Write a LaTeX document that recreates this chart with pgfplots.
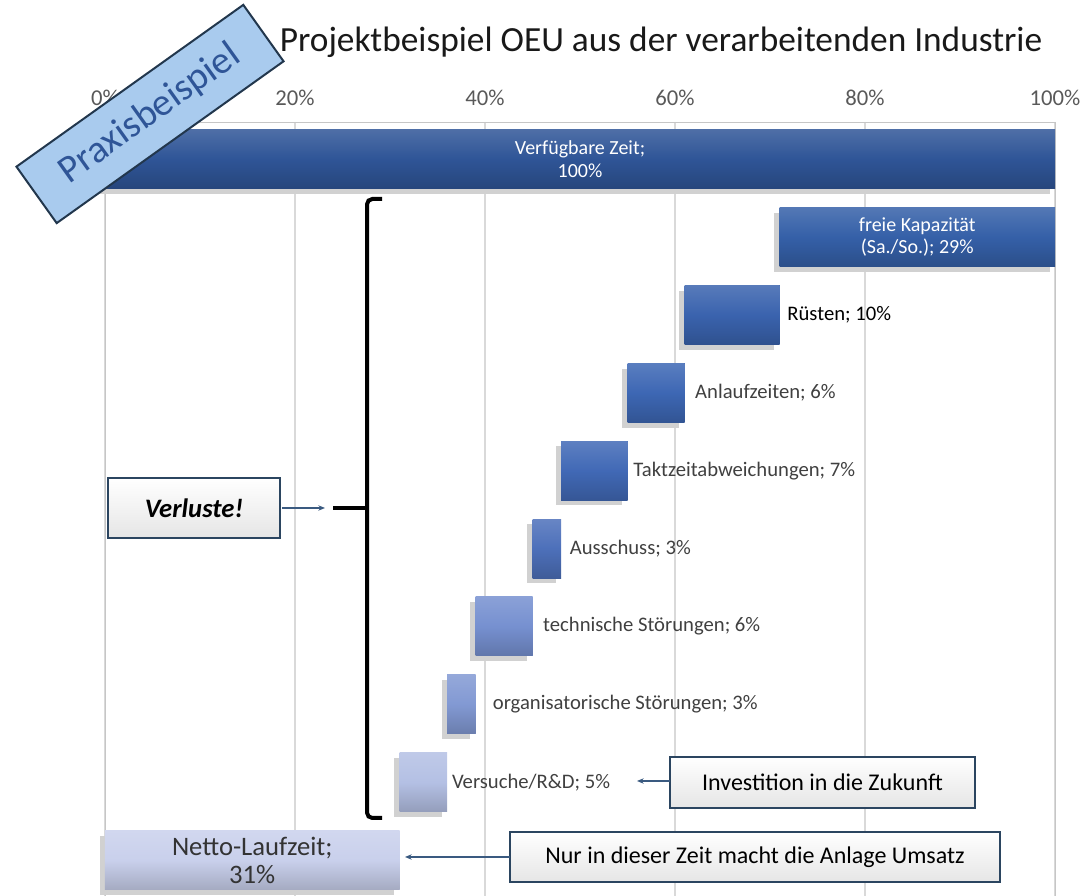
\documentclass[border=0pt]{standalone}
\usepackage{pgfplots}
\pgfplotsset{compat=1.18}
\usepackage{pgfplotstable}
\usepackage{fontspec}
\setmainfont{Carlito}
\usetikzlibrary{arrows.meta}

\definecolor{c0}{HTML}{2F5597}
\definecolor{c1}{HTML}{3560A8}
\definecolor{c2}{HTML}{3A63AE}
\definecolor{c3}{HTML}{3D67B4}
\definecolor{c4}{HTML}{4169B6}
\definecolor{c5}{HTML}{4D70BA}
\definecolor{c6}{HTML}{7690D0}
\definecolor{c7}{HTML}{8299D3}
\definecolor{c8}{HTML}{B4C0E4}
\definecolor{c9}{HTML}{C9D0EC}
\definecolor{tickgray}{HTML}{595959}
\definecolor{labgray}{HTML}{404040}
\definecolor{boxborder}{HTML}{2B4560}
\definecolor{arrowblue}{HTML}{3A5A80}
\definecolor{praxfill}{HTML}{A9CBEE}
\definecolor{praxtext}{HTML}{2F5597}

\pgfplotstableread{
row start len
0 0 100
1 71 29
2 61 10
3 55 6
4 48 7
5 45 3
6 39 6
7 36 3
8 31 5
9 0 31
}\waterfall

\pgfplotsset{
  wbar/.style={draw=none, fill=#1,
    preaction={fill=black!18, transform canvas={xshift=-4pt,yshift=-4pt}},
    postaction={top color=#1!85!white, bottom color=#1!82!black, middle color=#1}},
}
\newcommand{\rowbar}[2]{\addplot[wbar=#2] table[y=row, x expr={\thisrow{row}==#1 ? \thisrow{len} : 0}] {\waterfall};}

\begin{document}
\begin{tikzpicture}
\begin{axis}[
  width=712.5pt, height=580.5pt, scale only axis,
  xbar stacked, bar width=0.757,
  xmin=0, xmax=100, ymin=-0.475, ymax=9.46, y dir=reverse,
  ytick=\empty,
  xtick={0,20,...,100},
  xticklabel pos=top,
  xticklabel={\pgfmathprintnumber{\tick}\%},
  xticklabel style={text=tickgray, font=\fontsize{17}{20}\selectfont, yshift=8.5pt},
  major tick length=0pt,
  xmajorgrids, grid style={draw=gray!30, line width=0.8pt},
  axis line style={draw=gray!45},
  /pgf/number format/assume math mode=true,
  clip=false,
]
\addplot[draw=none, fill=none] table[x=start, y=row] {\waterfall};
\rowbar{0}{c0}
\rowbar{1}{c1}
\rowbar{2}{c2}
\rowbar{3}{c3}
\rowbar{4}{c4}
\rowbar{5}{c5}
\rowbar{6}{c6}
\rowbar{7}{c7}
\rowbar{8}{c8}
\rowbar{9}{c9}

\coordinate (L0) at (axis cs:50,0);
\coordinate (L1) at (axis cs:85.5,1);
\coordinate (L2) at (axis cs:71.8,2);
\coordinate (L3) at (axis cs:62.1,3);
\coordinate (L4) at (axis cs:55.6,4);
\coordinate (L5) at (axis cs:48.9,5);
\coordinate (L6) at (axis cs:46.1,6);
\coordinate (L7) at (axis cs:40.8,7);
\coordinate (L8) at (axis cs:36.5,8);
\coordinate (L9) at (axis cs:15.5,9);
\end{axis}

\node[text=white, align=center, font=\fontsize{15}{17}\selectfont] at (L0) {Verfügbare Zeit;\\100\%};
\node[text=white, align=center, font=\fontsize{15}{17}\selectfont] at (L1) {freie Kapazität\\(Sa./So.); 29\%};
\node[text=black, anchor=west, inner sep=0pt, font=\fontsize{15.5}{17}\selectfont] at (L2) {Rüsten; 10\%};
\node[text=labgray, anchor=west, inner sep=0pt, font=\fontsize{15.5}{17}\selectfont] at (L3) {Anlaufzeiten; 6\%};
\node[text=labgray, anchor=west, inner sep=0pt, font=\fontsize{15.5}{17}\selectfont] at (L4) {Taktzeitabweichungen; 7\%};
\node[text=labgray, anchor=west, inner sep=0pt, font=\fontsize{15.5}{17}\selectfont] at (L5) {Ausschuss; 3\%};
\node[text=labgray, anchor=west, inner sep=0pt, font=\fontsize{15.5}{17}\selectfont] at (L6) {technische Störungen; 6\%};
\node[text=labgray, anchor=west, inner sep=0pt, font=\fontsize{15.5}{17}\selectfont] at (L7) {organisatorische Störungen; 3\%};
\node[text=labgray, anchor=west, inner sep=0pt, font=\fontsize{15.5}{17}\selectfont] at (L8) {Versuche/R\&D; 5\%};
\node[text=labgray!80!black, align=center, font=\fontsize{20}{21}\selectfont] at (L9) {Netto-Laufzeit;\\31\%};

\begin{scope}[x=0.75pt, y=-0.75pt, shift={(-78.75pt,672pt)}]
  \node[font=\fontsize{26.5}{30}\selectfont, text=black!90] at (661,42) {Projektbeispiel OEU aus der verarbeitenden Industrie};
  % brace
  \draw[line width=3pt, rounded corners=4pt] (382,199) -- (367,199) -- (367,818) -- (382,818);
  \draw[line width=3pt] (333,508) -- (367,508);
  % Verluste
  \node[draw=boxborder, line width=0.9pt, top color=white, bottom color=gray!20, minimum width=129pt, minimum height=45pt, inner sep=0pt, font=\bfseries\itshape\fontsize{20}{24}\selectfont] at (194,508) {Verluste!};
  \draw[arrowblue, line width=1pt, -{Stealth[length=5pt,width=4pt]}] (282,508) -- (325,508);
  % Investition
  \node[draw=boxborder, line width=0.9pt, top color=white, bottom color=gray!20, minimum width=228.75pt, minimum height=38.25pt, inner sep=0pt, font=\fontsize{18}{22}\selectfont] at (822.5,782.5) {Investition in die Zukunft};
  \draw[arrowblue, line width=1pt, -{Stealth[length=5pt,width=4pt]}] (670,781) -- (637,781);
  % Nur in dieser Zeit
  \node[draw=boxborder, line width=0.9pt, top color=white, bottom color=gray!20, minimum width=367.5pt, minimum height=37.5pt, inner sep=0pt, font=\fontsize{18}{22}\selectfont] at (755,857) {Nur in dieser Zeit macht die Anlage Umsatz};
  \draw[arrowblue, line width=1pt, -{Stealth[length=5pt,width=4pt]}] (510,857) -- (405,857);
  % Praxisbeispiel
  \node[rotate=35.5, draw=boxborder!80!black, line width=1.5pt, fill=praxfill, minimum width=209pt, minimum height=52pt, inner sep=0pt, text=praxtext, font=\fontsize{29}{32}\selectfont] at (150,114) {Praxisbeispiel};
\end{scope}
\pgfresetboundingbox
\useasboundingbox (-78.75pt,0pt) rectangle (735.75pt,672pt);
\end{tikzpicture}
\end{document}
